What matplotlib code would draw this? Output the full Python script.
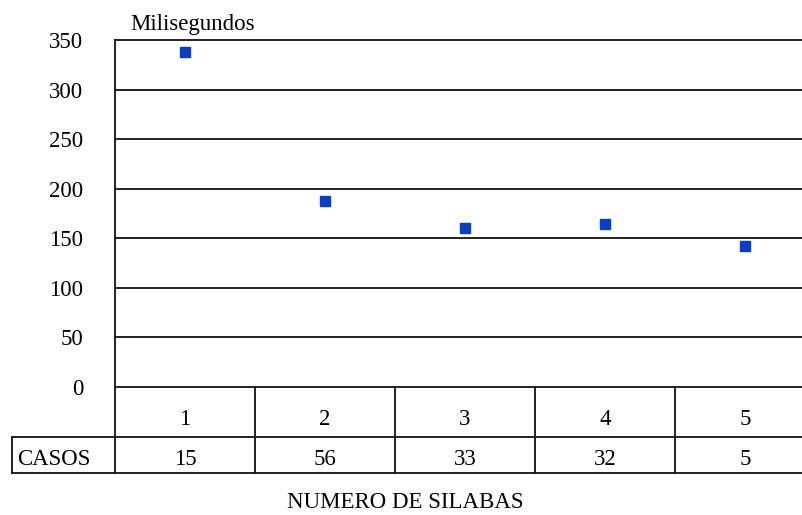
import matplotlib
matplotlib.use("Agg")
import matplotlib.pyplot as plt
import matplotlib.transforms as mtransforms

# datos
silabas = [1, 2, 3, 4, 5]
milisegundos = [338, 188, 160, 164, 142]
casos = [15, 56, 33, 32, 5]
yticks = [0, 50, 100, 150, 200, 250, 300, 350]

plt.rcParams['font.family'] = ['Liberation Serif', 'DejaVu Serif']
line_col = '#111111'
lw = 1.3
fs = 16.5

fig = plt.figure(figsize=(8.03, 5.15), dpi=100)
ax = fig.add_axes([115/803, 128/515, 700/803, 347/515])
ax.set_xlim(0.5, 5.5)
ax.set_ylim(0, 350)

for y in yticks:
    ax.axhline(y, color=line_col, lw=lw, clip_on=False, zorder=1)

ax.plot(silabas, milisegundos, 's', color='#0A3FC4', markersize=7.3,
        linestyle='none', zorder=3)

for s in ['top', 'right', 'bottom']:
    ax.spines[s].set_visible(False)
ax.spines['left'].set_color(line_col)
ax.spines['left'].set_linewidth(lw)

ax.set_yticks(yticks)
ax.set_xticks([])
ax.tick_params(axis='y', length=0, pad=23, labelsize=fs)

tr = mtransforms.blended_transform_factory(ax.transData, ax.transAxes)

ax.text(0.607, 1.029, 'Milisegundos', transform=tr,
        fontsize=fs, va='baseline', ha='left')

# tabla debajo del eje
r1 = -50/347
r2 = -86/347
x_left = 0.5 - 103.3/140
kw = dict(color=line_col, lw=lw, transform=tr, clip_on=False)
ax.plot([x_left, 5.5], [r1, r1], **kw)
ax.plot([x_left, 5.5], [r2, r2], **kw)
ax.plot([x_left, x_left], [r1, r2], **kw)
for b in [0.5, 1.5, 2.5, 3.5, 4.5]:
    ax.plot([b, b], [0, r2], **kw)

for s, c in zip(silabas, casos):
    ax.text(s, -38/347, str(s), transform=tr, ha='center', va='baseline',
            fontsize=fs)
    ax.text(s, -78/347, str(c), transform=tr, ha='center', va='baseline',
            fontsize=fs)
ax.text(x_left + 5.0/140, -78/347, 'CASOS', transform=tr, ha='left',
        va='baseline', fontsize=fs)

fig.text(405/803, 1 - 503/515, 'NUMERO DE SILABAS', ha='center', va='center',
         fontsize=fs)

fig.savefig('out.png', dpi=100)
